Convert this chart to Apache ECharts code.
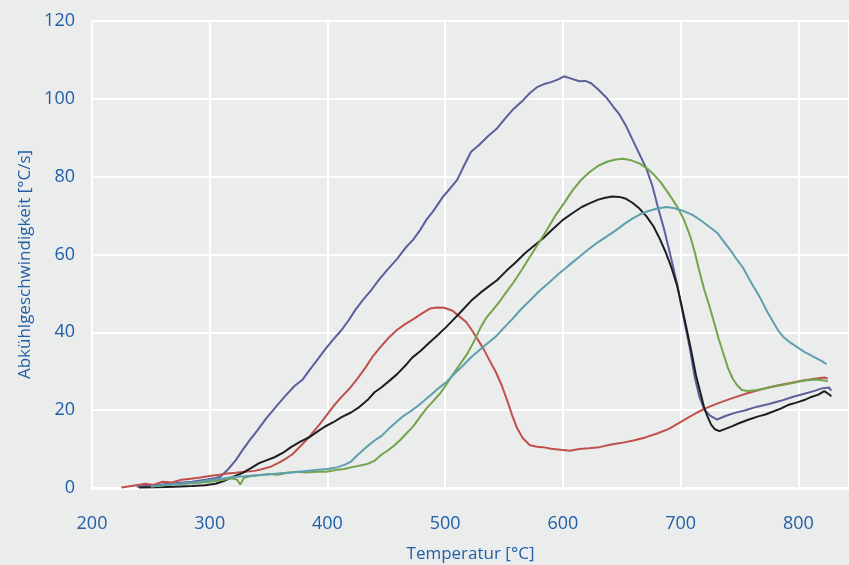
<!DOCTYPE html>
<html>
<head>
<meta charset="utf-8">
<script src="https://cdn.jsdelivr.net/npm/echarts@6/dist/echarts.min.js"></script>
<style>
html,body{margin:0;padding:0;background:#ebecec;}
#c{width:849px;height:565px;}
</style>
</head>
<body>
<div id="c"></div>
<script>
// Temperatur [°C], Abkühlgeschwindigkeit [°C/s]
var xTicks = [200, 300, 400, 500, 600, 700, 800];
var yTicks = [0, 20, 40, 60, 80, 100, 120];

var blueSeries = [
  [238,0.3],[255,0.8],[270,1.2],[285,1.6],[298,2.2],[305,2.6],[309,2.9],[315,4.6],[322,7.1],[328,9.8],[334,12.3],[340,14.6],
  [348,17.9],[356,20.8],[364,23.6],[372,26.2],[379,27.9],[386,30.8],[392,33.2],[398,35.6],[405,38.2],[412,40.6],[418,43.1],
  [424,45.9],[430,48.3],[437,50.8],[444,53.6],[451,56.1],[459,58.8],[466,61.6],[473,63.9],[479,66.4],[484,68.9],[490,71.2],
  [498,74.8],[504,76.9],[510,79.1],[516,82.8],[522,86.4],[529,88.2],[537,90.6],[544,92.4],[551,95.0],[558,97.4],[566,99.6],
  [572,101.5],[578,103.0],[584,103.8],[590,104.3],[596,105.0],[601,105.8],[607,105.2],[614,104.5],[619,104.6],[624,104.0],
  [630,102.4],[637,100.3],[643,97.9],[648,96.0],[654,92.8],[659,89.6],[665,85.8],[671,82.0],[676,77.6],[681,71.8],[686,66.4],
  [691,60.2],[697,52.4],[702,44.6],[708,35.6],[712,28.4],[716,23.4],[720,20.2],[725,18.6],[731,17.6],[738,18.5],[746,19.3],
  [755,20.0],[765,20.9],[775,21.6],[785,22.4],[795,23.4],[805,24.2],[813,24.9],[820,25.6],[826,25.8],[828,25.0]
];

var redSeries = [
  [225,0.1],[235,0.6],[245,1.1],[252,0.8],[260,1.6],[268,1.4],[276,2.1],[284,2.4],[292,2.7],[300,3.1],[308,3.4],[315,3.7],
  [322,3.9],[330,4.2],[338,4.4],[345,4.9],[352,5.5],[358,6.4],[364,7.4],[370,8.6],[376,10.4],[382,12.3],[388,14.4],
  [394,16.6],[400,19.0],[405,21.0],[411,23.1],[418,25.3],[425,27.9],[432,30.8],[438,33.6],[445,36.2],[452,38.6],[459,40.6],
  [466,42.1],[473,43.4],[480,44.8],[487,46.1],[493,46.4],[499,46.3],[506,45.6],[512,44.1],[518,42.6],[523,40.4],[528,38.0],
  [533,35.5],[538,32.6],[543,29.8],[548,26.4],[553,22.2],[557,18.6],[561,15.4],[566,12.8],[572,11.0],[578,10.6],[583,10.5],
  [590,10.1],[598,9.8],[606,9.6],[614,10.0],[622,10.2],[631,10.5],[640,11.1],[650,11.6],[660,12.2],[670,13.0],[680,14.0],
  [690,15.2],[698,16.6],[706,18.0],[714,19.4],[722,20.6],[732,21.8],[744,23.1],[756,24.3],[768,25.3],[780,26.2],[792,26.9],
  [804,27.6],[814,28.1],[822,28.4],[825,28.1]
];

var blackSeries = [
  [240,0.1],[255,0.2],[270,0.3],[285,0.5],[296,0.7],[305,1.1],[312,1.8],[320,2.9],[328,3.9],[335,5.1],[342,6.4],[348,7.1],
  [355,7.9],[362,9.0],[369,10.5],[377,11.9],[385,13.1],[392,14.6],[398,15.8],[405,16.9],[412,18.2],[420,19.4],[427,20.8],
  [434,22.6],[440,24.6],[446,25.9],[452,27.4],[459,29.2],[466,31.4],[472,33.5],[479,35.2],[486,37.2],[494,39.4],[501,41.4],
  [508,43.6],[515,45.8],[522,48.1],[530,50.2],[537,51.8],[544,53.4],[552,55.8],[560,58.0],[568,60.4],[576,62.4],[583,64.1],
  [591,66.4],[600,68.9],[608,70.6],[616,72.2],[623,73.2],[630,74.1],[636,74.6],[642,74.9],[648,74.8],[653,74.4],[659,73.3],
  [665,71.8],[671,69.8],[677,67.2],[682,64.2],[687,60.8],[692,56.8],[697,52.0],[701,46.6],[705,41.0],[709,35.2],[713,29.0],
  [717,24.2],[720,20.6],[723,18.2],[726,16.2],[729,15.1],[733,14.6],[738,15.2],[744,15.9],[750,16.7],[758,17.6],[766,18.4],
  [772,18.9],[778,19.6],[785,20.4],[792,21.4],[799,22.0],[805,22.6],[811,23.4],[817,24.0],[822,24.9],[826,24.1],[828,23.6]
];

var greenSeries = [
  [250,0.4],[262,0.7],[275,1.0],[288,1.3],[300,1.6],[310,2.0],[318,2.5],[323,2.2],[326,0.9],[329,2.6],[335,3.1],[342,3.3],
  [350,3.6],[358,3.4],[366,3.9],[374,4.2],[382,4.0],[390,4.2],[399,4.2],[407,4.6],[414,4.9],[420,5.3],[428,5.8],[434,6.2],
  [440,7.0],[446,8.6],[452,9.8],[457,11.0],[462,12.4],[467,14.0],[473,15.9],[479,18.4],[484,20.4],[490,22.4],[496,24.4],
  [501,26.6],[507,29.4],[513,32.0],[519,34.6],[525,38.0],[530,41.2],[535,43.8],[540,45.6],[546,47.8],[552,50.4],[558,52.8],
  [565,56.0],[572,59.4],[580,63.2],[587,66.6],[594,70.2],[601,73.2],[608,76.4],[615,79.0],[622,81.0],[630,82.8],[638,83.9],
  [645,84.4],[651,84.6],[658,84.2],[665,83.4],[671,82.2],[677,80.6],[683,78.6],[688,76.4],[693,74.2],[698,71.8],[703,68.8],
  [708,64.8],[712,60.6],[716,55.6],[720,51.0],[724,47.2],[728,43.0],[732,38.6],[736,34.8],[740,31.0],[744,28.2],[748,26.4],
  [752,25.2],[757,24.9],[765,25.2],[775,25.8],[785,26.4],[795,27.0],[805,27.6],[815,27.9],[822,27.6],[825,27.4]
];

var tealSeries = [
  [250,0.4],[262,0.8],[275,1.1],[288,1.5],[300,2.0],[310,2.4],[320,2.8],[330,3.0],[340,3.3],[350,3.5],[360,3.8],[370,4.0],
  [380,4.3],[390,4.6],[400,4.9],[408,5.3],[415,6.0],[420,6.8],[426,8.6],[433,10.5],[440,12.2],[446,13.4],[452,15.2],
  [458,16.8],[464,18.4],[470,19.6],[476,20.9],[482,22.4],[489,24.2],[495,25.8],[501,27.2],[508,29.4],[515,31.4],[522,33.6],
  [529,35.4],[536,37.2],[543,38.9],[550,41.2],[557,43.4],[564,45.8],[572,48.2],[580,50.6],[589,53.0],[597,55.2],[605,57.2],
  [614,59.4],[622,61.4],[630,63.2],[637,64.6],[644,66.0],[651,67.6],[659,69.2],[666,70.4],[673,71.2],[680,71.8],[688,72.2],
  [695,71.9],[702,71.2],[710,70.2],[717,68.8],[724,67.2],[731,65.6],[737,63.2],[743,60.8],[748,58.6],[753,56.6],[758,53.8],
  [763,51.2],[768,48.6],[773,45.6],[778,43.0],[783,40.4],[788,38.6],[793,37.4],[799,36.2],[805,35.0],[810,34.2],[815,33.4],
  [820,32.6],[824,31.8]
];

var seriesNames = ['Probe 1', 'Probe 2', 'Probe 3', 'Probe 4', 'Probe 5'];
var seriesColors = ['#5b5f9c', '#c0504d', '#1e1e1e', '#72a44c', '#5e9fae'];
var seriesData = [blueSeries, redSeries, blackSeries, greenSeries, tealSeries];

var chart = echarts.init(document.getElementById('c'));
var labelColor = '#1f5fa8';
var font = '"Open Sans", "Noto Sans", sans-serif';

chart.setOption({
  backgroundColor: '#ebecec',
  animation: false,
  grid: {left: 92, right: 0, top: 21, bottom: 77, containLabel: false, outerBoundsMode: 'none'},
  xAxis: {
    type: 'value', min: 200, max: 843, interval: 100,
    name: 'Temperatur [°C]', nameLocation: 'middle', nameGap: 58,
    nameTextStyle: {color: labelColor, fontSize: 17, fontFamily: font},
    axisLine: {show: true, lineStyle: {color: '#ffffff', width: 3}},
    axisTick: {show: false},
    axisLabel: {color: labelColor, fontSize: 18, fontFamily: font, margin: 27,
      formatter: function (v) { return xTicks.indexOf(v) >= 0 ? String(v) : ''; }},
    splitLine: {show: true, lineStyle: {color: '#ffffff', width: 2}}
  },
  yAxis: {
    type: 'value', min: 0, max: 120, interval: 20,
    name: 'Abkühlgeschwindigkeit [°C/s]', nameLocation: 'middle', nameGap: 56,
    nameTextStyle: {color: labelColor, fontSize: 17, fontFamily: font, padding: [0, 20, 0, 0]},
    axisLine: {show: true, lineStyle: {color: '#ffffff', width: 2}},
    axisTick: {show: false},
    axisLabel: {color: labelColor, fontSize: 18, fontFamily: font, margin: 17,
      formatter: function (v) { return yTicks.indexOf(v) >= 0 ? String(v) : ''; }},
    splitLine: {show: true, lineStyle: {color: '#ffffff', width: 2}}
  },
  series: seriesData.map(function (d, i) {
    return {
      name: seriesNames[i], type: 'line', data: d, showSymbol: false, smooth: false,
      lineStyle: {color: seriesColors[i], width: 2},
      itemStyle: {color: seriesColors[i]}
    };
  })
});
</script>
</body>
</html>
